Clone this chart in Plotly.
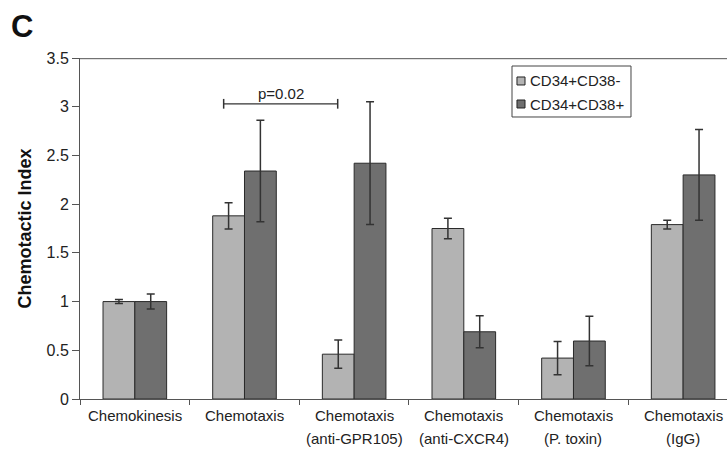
import plotly.graph_objects as go

categories = ["Chemokinesis", "Chemotaxis", "Chemotaxis (anti-GPR105)",
              "Chemotaxis (anti-CXCR4)", "Chemotaxis (P. toxin)", "Chemotaxis (IgG)"]
label_line1 = ["Chemokinesis", "Chemotaxis", "Chemotaxis", "Chemotaxis", "Chemotaxis", "Chemotaxis"]
label_line2 = ["", "", "(anti-GPR105)", "(anti-CXCR4)", "(P. toxin)", "(IgG)"]
series_names = ["CD34+CD38-", "CD34+CD38+"]
series_colors = ["#b3b3b3", "#6f6f6f"]
cd38_neg = [1.00, 1.88, 0.46, 1.75, 0.42, 1.79]
cd38_neg_err = [0.02, 0.135, 0.145, 0.105, 0.17, 0.045]
cd38_pos = [1.00, 2.34, 2.42, 0.69, 0.595, 2.30]
cd38_pos_err = [0.077, 0.52, 0.63, 0.165, 0.255, 0.465]
y_ticks = [0, 0.5, 1, 1.5, 2, 2.5, 3, 3.5]
y_tick_labels = ["0", "0.5", "1", "1.5", "2", "2.5", "3", "3.5"]

font = "Liberation Sans, Arial, sans-serif"

fig = go.Figure()
for name, vals, errs, col in zip(series_names, [cd38_neg, cd38_pos],
                                 [cd38_neg_err, cd38_pos_err], series_colors):
    fig.add_trace(go.Bar(
        name=name, x=categories, y=vals, showlegend=False,
        marker=dict(color=col, line=dict(color="#2a2a2a", width=1)),
        error_y=dict(type="data", array=errs, color="#333333", thickness=1.5, width=4),
    ))

# category labels (two lines, wider line spacing)
for cat, l1, l2 in zip(categories, label_line1, label_line2):
    fig.add_annotation(x=cat, y=0, xref="x", yref="paper", text=l1, showarrow=False,
                       yanchor="middle", yshift=-16, font=dict(family=font, size=15, color="#222"))
    if l2:
        fig.add_annotation(x=cat, y=0, xref="x", yref="paper", text=l2, showarrow=False,
                           yanchor="middle", yshift=-39, font=dict(family=font, size=15, color="#222"))

# significance bracket
bx0, bx1, by = 0.81, 1.85, 3.03
fig.add_shape(type="line", xref="x", yref="y", x0=bx0, x1=bx1, y0=by, y1=by,
              line=dict(color="#333333", width=1.2))
for bx in (bx0, bx1):
    fig.add_shape(type="line", xref="x", yref="y", x0=bx, x1=bx, y0=by - 0.05, y1=by + 0.05,
                  line=dict(color="#333333", width=1.5))
fig.add_annotation(x=(bx0 + bx1) / 2, y=by, xref="x", yref="y", text="p=0.02",
                   showarrow=False, yanchor="bottom", yshift=0,
                   font=dict(family=font, size=15, color="#222"))

# top frame line (slightly inside the top edge so it is not clipped)
fig.add_shape(type="line", xref="paper", yref="paper", x0=0, x1=1, y0=0.998, y1=0.998,
              line=dict(color="#555", width=1), layer="above")

# custom legend box
fig.add_shape(type="rect", xref="paper", yref="paper", x0=0.6677, x1=0.8516, y0=0.827, y1=0.9765,
              line=dict(color="#444", width=1), fillcolor="white", layer="above")
leg_y = [0.9326, 0.8651]
for name, col, yc in zip(series_names, series_colors, leg_y):
    fig.add_shape(type="rect", xref="paper", yref="paper", x0=0.6754, x1=0.6878,
                  y0=yc - 0.0117, y1=yc + 0.0117, fillcolor=col,
                  line=dict(color="#222", width=1), layer="above")
    fig.add_annotation(xref="paper", yref="paper", x=0.6924, y=yc, xanchor="left", yanchor="middle",
                       text=name, showarrow=False, font=dict(family=font, size=15, color="#222"))

fig.add_annotation(xref="paper", yref="paper", x=-0.109, y=1.151, xanchor="left", yanchor="top",
                   text="<b>C</b>", showarrow=False, font=dict(family=font, size=31, color="#111"))
fig.add_annotation(xref="paper", yref="paper", x=0, xshift=-56, xanchor="center", y=0.5,
                   textangle=-90, text="<b>Chemotactic Index</b>", showarrow=False,
                   font=dict(family=font, size=18, color="#111"))

fig.update_layout(
    width=727, height=455,
    margin=dict(l=80, r=0, t=58, b=56),
    paper_bgcolor="white", plot_bgcolor="white",
    barmode="group", bargap=0.42, bargroupgap=0,
    font=dict(family=font, size=14, color="#222"),
    showlegend=False,
    xaxis=dict(type="category", range=[-0.5, 5.40], showline=True, mirror=False,
               linecolor="#555", linewidth=1, ticks="outside", tickson="boundaries",
               ticklen=5, tickcolor="#555", showgrid=False, showticklabels=False,
               automargin=False),
    yaxis=dict(range=[0, 3.5], tickvals=y_ticks, ticktext=y_tick_labels,
               showline=True, linecolor="#555", linewidth=1, ticks="outside",
               ticklen=7, tickcolor="#555", showgrid=False, zeroline=False,
               automargin=False,
               tickfont=dict(family=font, size=16, color="#222")),
)

fig.write_html("out.html", config={"displayModeBar": False},
               post_script="document.body.style.margin='0';document.body.style.overflow='hidden';")
